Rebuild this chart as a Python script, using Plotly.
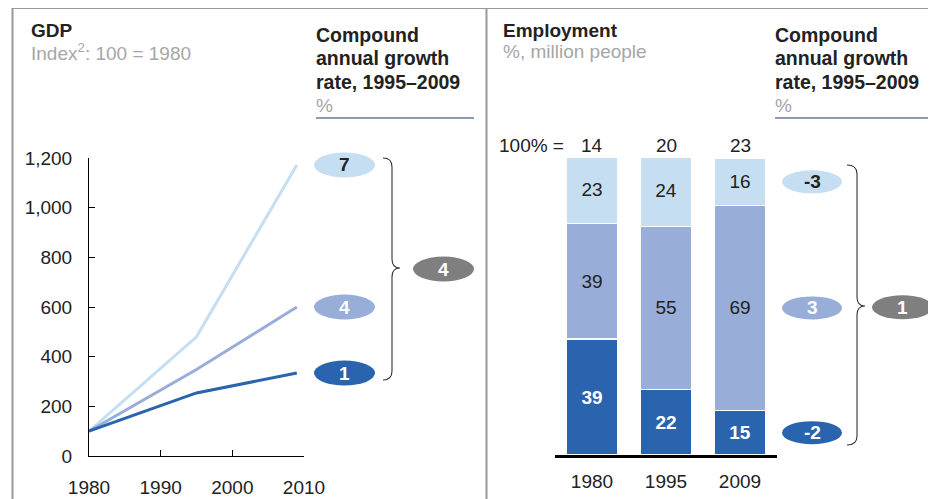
import plotly.graph_objects as go

# ---------------- data ----------------
gdp_years = [1980, 1995, 2009]
gdp_light = [100, 480, 1172]
gdp_mid = [100, 348, 600]
gdp_dark = [100, 254, 334]
gdp_cagr = [7, 4, 1]          # light, mid, dark
gdp_cagr_total = 4
gdp_xticks = [1980, 1990, 2000, 2010]
gdp_yticks = [0, 200, 400, 600, 800, 1000, 1200]

emp_years = ["1980", "1995", "2009"]
emp_totals = [14, 20, 23]
emp_dark = [39, 22, 15]
emp_mid = [39, 55, 69]
emp_light = [23, 24, 16]
emp_cagr = [-3, 3, -2]        # light, mid, dark
emp_cagr_total = 1

# ---------------- style ----------------
# The page body has an 8px margin, so the figure is drawn 8px smaller and
# all layout positions below are given in window pixels, then offset.
PAGE_W, PAGE_H = 936, 499
OFF = 8
W, H = PAGE_W - OFF, PAGE_H - OFF
FONT = "Liberation Sans, Arial, sans-serif"
FS = 19
FS_HEAD = 19.5
C_LIGHT = "#C5DEF2"
C_MID = "#98ADD8"
C_DARK = "#2A64AF"
C_GRAY = "#7F7F7F"
C_TEXT = "#222222"
C_SUB = "#A6A6A6"


def px(x):
    return (x - OFF) / W


def py(y):
    return 1 - (y - OFF) / H


# plot areas (window pixels)
L_X0, L_X1 = 89, 304
L_YB, L_YT = 456, 158
GDP_MAX = 1200
B_X0, B_X1 = 555, 777
B_YB, B_YT = 455, 158


def gdp_to_py(v):
    return L_YB - v / GDP_MAX * (L_YB - L_YT)


def emp_to_py(v):
    return B_YB - v / 100 * (B_YB - B_YT)


fig = go.Figure()

# line chart
for vals, col in [(gdp_light, C_LIGHT), (gdp_mid, C_MID), (gdp_dark, C_DARK)]:
    fig.add_trace(go.Scatter(x=gdp_years, y=vals, mode="lines",
                             line=dict(color=col, width=3), xaxis="x", yaxis="y",
                             showlegend=False, hoverinfo="skip"))

# stacked bars
for vals, col, tcol, bold in [(emp_dark, C_DARK, "white", True),
                              (emp_mid, C_MID, C_TEXT, False),
                              (emp_light, C_LIGHT, C_TEXT, False)]:
    fig.add_trace(go.Bar(
        x=emp_years, y=vals, xaxis="x2", yaxis="y2",
        marker=dict(color=col, line=dict(color="white", width=1.5)),
        text=[f"<b>{v}</b>" if bold else str(v) for v in vals],
        textposition="inside", insidetextanchor="middle", textangle=0,
        constraintext="none",
        textfont=dict(family=FONT, size=FS, color=tcol),
        showlegend=False, hoverinfo="skip"))

layout_axes = dict(
    xaxis=dict(domain=[px(L_X0), px(L_X1)], range=[1980, 2010], tickvals=gdp_xticks,
               showline=True, linecolor="black", linewidth=1, ticks="inside",
               ticklen=6, tickcolor="black", showgrid=False, zeroline=False,
               tickfont=dict(family=FONT, size=FS, color=C_TEXT),
               ticklabelstandoff=14, anchor="y", automargin=False),
    yaxis=dict(domain=[py(L_YB), py(L_YT)], range=[0, GDP_MAX], tickvals=gdp_yticks,
               tickformat=",d", showline=True, linecolor="black", linewidth=1,
               ticks="inside", ticklen=6, tickcolor="black", showgrid=False,
               zeroline=False, tickfont=dict(family=FONT, size=FS, color=C_TEXT),
               ticklabelstandoff=12, anchor="x", automargin=False),
    xaxis2=dict(domain=[px(B_X0), px(B_X1)], range=[-0.5, 2.5], type="category",
                showline=True, linecolor="black", linewidth=3, ticks="",
                showgrid=False, zeroline=False,
                tickfont=dict(family=FONT, size=FS, color=C_TEXT),
                ticklabelstandoff=7, anchor="y2", automargin=False),
    yaxis2=dict(domain=[py(B_YB), py(B_YT)], range=[0, 100], visible=False,
                showgrid=False, zeroline=False, anchor="x2", automargin=False),
)

shapes = []
annotations = []

# frame lines
for x0, y0, x1, y1 in [(12, 8, PAGE_W, 8), (12.5, 8, 12.5, PAGE_H),
                       (486.5, 8, 486.5, PAGE_H)]:
    shapes.append(dict(type="line", xref="paper", yref="paper",
                       x0=px(x0), y0=py(y0), x1=px(x1), y1=py(y1),
                       line=dict(color="#999999", width=2)))


def txt(x, y, s, size=FS, color=C_TEXT, xanchor="left", bold=False):
    annotations.append(dict(xref="paper", yref="paper", x=px(x), y=py(y),
                            text=f"<b>{s}</b>" if bold else s, showarrow=False,
                            xanchor=xanchor, yanchor="middle",
                            font=dict(family=FONT, size=size, color=color)))


# titles
txt(29, 30, "GDP", bold=True)
txt(29, 52, "Index<sup>2</sup>: 100 = 1980", color=C_SUB)
txt(501, 30, "Employment", bold=True)
txt(501, 52, "%, million people", color=C_SUB)
for x0, x1 in [(316, 474), (775, PAGE_W)]:
    txt(x0 - 2, 35, "Compound", size=FS_HEAD, bold=True)
    txt(x0 - 2, 58, "annual growth", size=FS_HEAD, bold=True)
    txt(x0 - 2, 82, "rate, 1995–2009", size=FS_HEAD, bold=True)
    txt(x0 - 2, 105, "%", color=C_SUB)
    shapes.append(dict(type="line", xref="paper", yref="paper", x0=px(x0), x1=px(x1),
                       y0=py(118), y1=py(118), line=dict(color="#1F3870", width=1.2)))

# bar totals
txt(566, 145, "100% =", xanchor="right")
for i, tot in enumerate(emp_totals):
    annotations.append(dict(xref="x2", yref="paper", x=i, y=py(145), text=str(tot),
                            showarrow=False, xanchor="center", yanchor="middle",
                            font=dict(family=FONT, size=FS, color=C_TEXT)))


def badge(xc, w, h, yc, label, fill, tcol):
    shapes.append(dict(type="circle", xref="paper", yref="paper",
                       x0=px(xc - w / 2), x1=px(xc + w / 2),
                       y0=py(yc + h / 2), y1=py(yc - h / 2),
                       fillcolor=fill, line=dict(width=0), layer="above"))
    annotations.append(dict(xref="paper", yref="paper", x=px(xc), y=py(yc),
                            text=f"<b>{label}</b>", showarrow=False,
                            xanchor="center", yanchor="middle",
                            font=dict(family=FONT, size=FS, color=tcol)))


# left badges at line ends
ends = [gdp_light[-1], gdp_mid[-1], gdp_dark[-1]]
for val, rate, fill, tcol in zip(ends, gdp_cagr, [C_LIGHT, C_MID, C_DARK],
                                  [C_TEXT, "white", "white"]):
    badge(344.5, 61, 25, gdp_to_py(val), rate, fill, tcol)
badge(443.5, 61, 25, gdp_to_py((ends[0] + ends[-1]) / 2), gdp_cagr_total, C_GRAY, "white")

# right badges at 2009 segment centres
c_dark = emp_dark[-1] / 2
c_mid = emp_dark[-1] + emp_mid[-1] / 2
c_light = emp_dark[-1] + emp_mid[-1] + emp_light[-1] / 2
for val, rate, fill, tcol in zip([c_light, c_mid, c_dark], emp_cagr,
                                  [C_LIGHT, C_MID, C_DARK], [C_TEXT, "white", "white"]):
    badge(812, 60, 23, emp_to_py(val), rate, fill, tcol)
badge(902.5, 61, 24, emp_to_py((c_light + c_dark) / 2), emp_cagr_total, C_GRAY, "white")


def brace(x0, x1, x2, top, mid, bot):
    pts = lambda x, y: f"{px(x):.5f},{py(y):.5f}"
    r = 9
    path = (f"M {pts(x0, top)} Q {pts(x1, top)} {pts(x1, top + r)} "
            f"L {pts(x1, mid - r)} Q {pts(x1, mid)} {pts(x2, mid)} "
            f"Q {pts(x1, mid)} {pts(x1, mid + r)} "
            f"L {pts(x1, bot - r)} Q {pts(x1, bot)} {pts(x0, bot)}")
    shapes.append(dict(type="path", xref="paper", yref="paper", path=path,
                       line=dict(color="#333333", width=1.1)))


brace(383, 392, 400, 158, 268, 380)
brace(847, 857, 865, 165, 306, 445)

fig.update_layout(
    width=W, height=H, margin=dict(l=0, r=0, t=0, b=0, pad=0, autoexpand=False),
    paper_bgcolor="white", plot_bgcolor="rgba(0,0,0,0)",
    barmode="stack", bargap=0.297,
    font=dict(family=FONT, size=FS, color=C_TEXT),
    shapes=shapes, annotations=annotations, showlegend=False,
    **layout_axes)

fig.write_html("out.html")
